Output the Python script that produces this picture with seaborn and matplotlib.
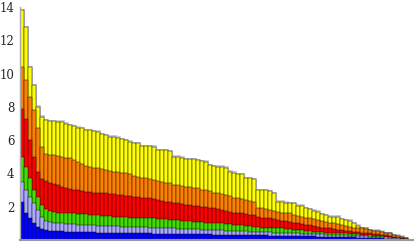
import numpy as np
import seaborn as sns
import matplotlib
matplotlib.use("Agg")
import matplotlib.pyplot as plt
import matplotlib.patheffects as pe

# top of each stacked layer, one value per bar (bars sorted by total)
total = [
    13.8, 12.8, 10.4, 9.3, 8.0, 7.4, 7.2, 7.15, 7.15, 7.1,
    7.1, 7.0, 6.9, 6.85, 6.75, 6.7, 6.6, 6.6, 6.55, 6.5,
    6.35, 6.3, 6.2, 6.2, 6.15, 6.05, 6.0, 5.9, 5.8, 5.8,
    5.65, 5.65, 5.65, 5.6, 5.4, 5.4, 5.4, 5.35, 5.0, 5.0,
    4.95, 4.85, 4.85, 4.85, 4.8, 4.75, 4.7, 4.5, 4.45, 4.4,
    4.4, 4.35, 4.1, 4.05, 3.95, 3.95, 3.7, 3.7, 3.65, 3.0,
    3.0, 3.0, 2.95, 2.8, 2.3, 2.3, 2.25, 2.2, 2.2, 2.05,
    2.05, 1.9, 1.85, 1.75, 1.7, 1.55, 1.5, 1.4, 1.4, 1.4,
    1.25, 1.2, 1.15, 1.0, 0.85, 0.7, 0.7, 0.6, 0.55, 0.55,
    0.5, 0.4, 0.4, 0.3, 0.25, 0.2, 0.1]

orange_top = [
    10.4, 9.6, 8.6, 7.8, 6.7, 5.6, 5.15, 5.1, 5.1, 5.05,
    5.0, 4.95, 4.9, 4.8, 4.7, 4.55, 4.45, 4.4, 4.35, 4.3,
    4.25, 4.2, 4.15, 4.1, 4.1, 4.05, 4.0, 3.95, 3.85, 3.8,
    3.75, 3.7, 3.65, 3.6, 3.55, 3.5, 3.45, 3.4, 3.3, 3.3,
    3.25, 3.2, 3.2, 3.15, 3.1, 3.0, 3.0, 2.95, 2.85, 2.8,
    2.75, 2.7, 2.65, 2.55, 2.5, 2.45, 2.4, 2.35, 2.3, 1.95,
    1.9, 1.85, 1.8, 1.75, 1.7, 1.65, 1.6, 1.6, 1.5, 1.45,
    1.4, 1.35, 1.3, 1.25, 1.2, 1.15, 1.1, 1.05, 1.0, 0.95,
    0.9, 0.85, 0.8, 0.75, 0.7, 0.7, 0.65, 0.6, 0.55, 0.55,
    0.5, 0.4, 0.4, 0.3, 0.25, 0.2, 0.1]

red_top = [
    7.9, 7.3, 6.0, 5.0, 4.1, 3.65, 3.55, 3.45, 3.35, 3.3,
    3.2, 3.1, 3.05, 3.0, 3.0, 2.95, 2.9, 2.9, 2.85, 2.85,
    2.8, 2.8, 2.75, 2.75, 2.7, 2.7, 2.65, 2.65, 2.6, 2.6,
    2.55, 2.55, 2.5, 2.45, 2.4, 2.35, 2.3, 2.3, 2.25, 2.2,
    2.15, 2.1, 2.1, 2.05, 2.05, 2.0, 2.0, 1.95, 1.9, 1.85,
    1.8, 1.75, 1.7, 1.65, 1.6, 1.6, 1.55, 1.5, 1.5, 1.4,
    1.35, 1.35, 1.3, 1.25, 1.2, 1.15, 1.15, 1.1, 1.05, 1.0,
    0.95, 0.9, 0.9, 0.85, 0.8, 0.75, 0.7, 0.7, 0.65, 0.6,
    0.6, 0.55, 0.55, 0.5, 0.5, 0.45, 0.4, 0.4, 0.35, 0.35,
    0.3, 0.3, 0.25, 0.2, 0.15, 0.12, 0.08]

green_top = [
    5.0, 4.4, 3.7, 3.0, 2.6, 2.1, 1.85, 1.75, 1.7, 1.65,
    1.65, 1.6, 1.6, 1.6, 1.55, 1.55, 1.55, 1.5, 1.5, 1.5,
    1.45, 1.45, 1.45, 1.4, 1.4, 1.4, 1.4, 1.35, 1.35, 1.35,
    1.3, 1.3, 1.3, 1.3, 1.25, 1.25, 1.25, 1.2, 1.2, 1.2,
    1.15, 1.15, 1.15, 1.1, 1.1, 1.1, 1.05, 1.05, 1.0, 1.0,
    1.0, 0.95, 0.95, 0.9, 0.9, 0.9, 0.85, 0.85, 0.8, 0.8,
    0.75, 0.75, 0.75, 0.7, 0.7, 0.7, 0.65, 0.65, 0.6, 0.6,
    0.6, 0.55, 0.55, 0.5, 0.5, 0.5, 0.45, 0.45, 0.45, 0.4,
    0.4, 0.4, 0.38, 0.36, 0.35, 0.32, 0.3, 0.28, 0.26, 0.25,
    0.22, 0.2, 0.18, 0.15, 0.12, 0.09, 0.06]

lavender_top = [
    3.5, 3.0, 2.6, 2.2, 1.8, 1.4, 1.15, 1.1, 1.05, 1.0,
    1.0, 0.98, 0.95, 0.95, 0.93, 0.92, 0.9, 0.9, 0.88, 0.87,
    0.86, 0.85, 0.84, 0.83, 0.82, 0.81, 0.8, 0.8, 0.79, 0.78,
    0.77, 0.76, 0.75, 0.75, 0.74, 0.73, 0.72, 0.71, 0.7, 0.69,
    0.68, 0.67, 0.66, 0.65, 0.64, 0.63, 0.62, 0.61, 0.6, 0.6,
    0.58, 0.57, 0.56, 0.55, 0.54, 0.53, 0.52, 0.51, 0.5, 0.49,
    0.48, 0.47, 0.46, 0.45, 0.44, 0.43, 0.42, 0.42, 0.41, 0.4,
    0.39, 0.38, 0.37, 0.36, 0.35, 0.34, 0.33, 0.32, 0.31, 0.3,
    0.29, 0.28, 0.27, 0.26, 0.25, 0.24, 0.22, 0.21, 0.2, 0.19,
    0.17, 0.16, 0.14, 0.12, 0.1, 0.07, 0.05]

blue_top = [
    2.3, 1.6, 1.3, 1.0, 0.8, 0.65, 0.6, 0.57, 0.55, 0.53,
    0.52, 0.5, 0.5, 0.49, 0.48, 0.48, 0.47, 0.46, 0.46, 0.45,
    0.45, 0.44, 0.44, 0.43, 0.43, 0.42, 0.42, 0.42, 0.41, 0.41,
    0.4, 0.4, 0.4, 0.39, 0.39, 0.38, 0.38, 0.38, 0.37, 0.37,
    0.36, 0.36, 0.36, 0.35, 0.35, 0.35, 0.34, 0.34, 0.33, 0.33,
    0.33, 0.32, 0.32, 0.31, 0.31, 0.3, 0.3, 0.3, 0.29, 0.29,
    0.28, 0.28, 0.27, 0.27, 0.26, 0.26, 0.25, 0.25, 0.24, 0.24,
    0.23, 0.23, 0.22, 0.22, 0.21, 0.21, 0.2, 0.2, 0.19, 0.19,
    0.18, 0.18, 0.17, 0.16, 0.15, 0.15, 0.14, 0.13, 0.12, 0.11,
    0.1, 0.09, 0.08, 0.07, 0.06, 0.05, 0.03]

yticks = [2, 4, 6, 8, 10, 12, 14]

layers = [
    (total, "#ffff00"),
    (orange_top, "#ff8000"),
    (red_top, "#ff0000"),
    (green_top, "#44dd00"),
    (lavender_top, "#aaaaff"),
    (blue_top, "#0000ff"),
]

sns.set_style("white")
fig = plt.figure(figsize=(4.15, 2.48), dpi=100)
ax = fig.add_axes([20 / 415, 8 / 248, 393 / 415, 233 / 248])

bars = np.arange(len(total))
# draw the cumulative tops from tallest to shortest so they stack visually
for i, (vals, col) in enumerate(layers):
    n_before = len(ax.patches)
    sns.barplot(x=bars, y=vals, color=col, saturation=1, width=1.0,
                edgecolor="#111111", linewidth=0.35, ax=ax)
    if i == 0:
        for p in ax.patches[n_before:]:
            p.set_path_effects([pe.SimplePatchShadow(offset=(1, 1), shadow_rgbFace="gray", alpha=0.4),
                                pe.Normal()])

ax.set_xlim(-0.5, 97.75)
ax.set_ylim(0, 14)
ax.set_xticks([])
ax.set_yticks(yticks)
ax.set_yticklabels([str(t) for t in yticks], fontfamily="DejaVu Serif", fontsize=8.5)
ax.tick_params(axis="y", length=2, width=0.8, color="#aaaaaa", pad=2)
ax.set_xlabel("")
ax.set_ylabel("")
for s in ["top", "right"]:
    ax.spines[s].set_visible(False)
ax.spines["left"].set_color("#aaaaaa")
ax.spines["left"].set_linewidth(1.0)
ax.spines["bottom"].set_color("#999999")
ax.spines["bottom"].set_linewidth(1.5)

fig.savefig("out.png", dpi=100)
